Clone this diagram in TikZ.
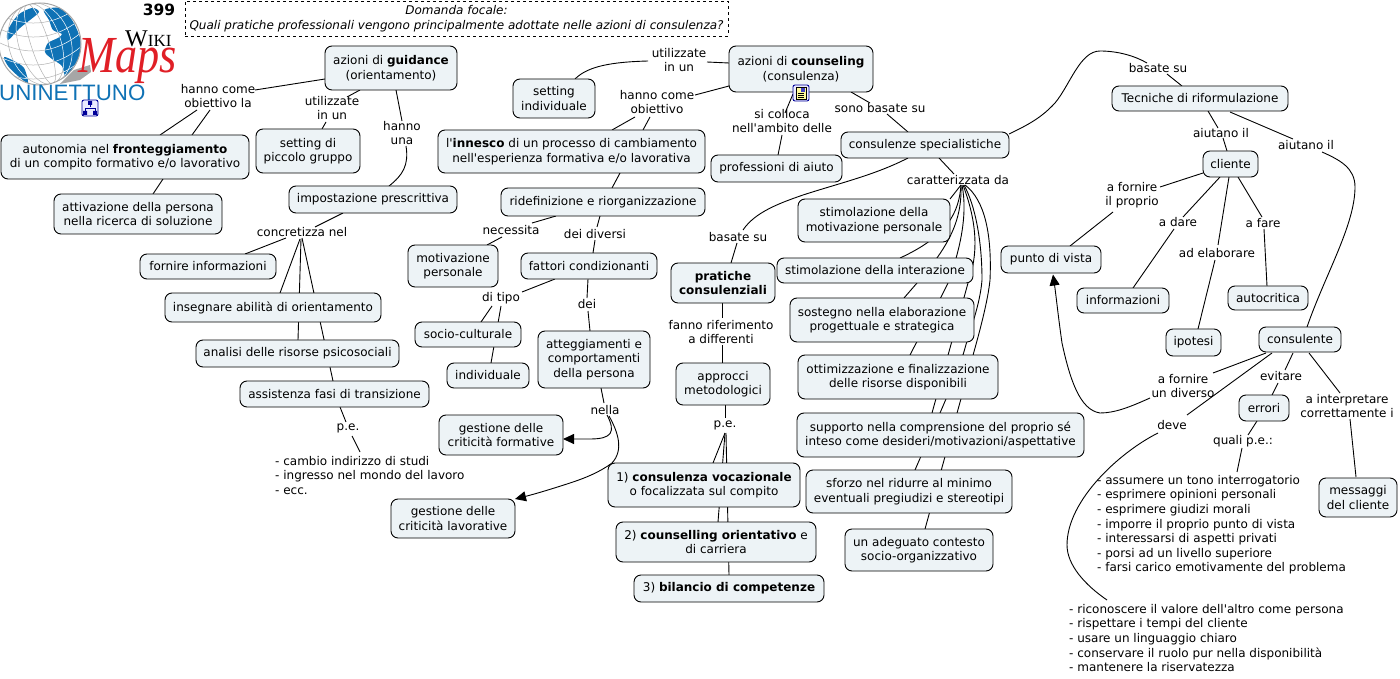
\documentclass[tikz,border=0pt]{standalone}
\usepackage{fontspec}
\setmainfont{DejaVu Sans}
\newfontfamily\logoserif{Liberation Serif}
\newfontfamily\logosans{Liberation Sans}
\usetikzlibrary{arrows.meta, backgrounds}
\definecolor{boxfill}{HTML}{EDF3F6}
\definecolor{globeblue}{HTML}{0F72B5}
\definecolor{mapsred}{HTML}{E01F26}
\newcommand{\mapfont}{\fontsize{12}{14.6}\selectfont}
\newcommand{\landpath}{plot[smooth cycle] coordinates {(8,30) (18,15) (32,8) (39,12) (30,20) (20,28) (8,40)}
  plot[smooth cycle] coordinates {(44,10) (60,8) (72,20) (80,38) (80,54) (75,69) (66,78) (62,66) (52,59) (45,52) (48,43) (58,38) (62,34) (53,30) (49,20)}
  plot[smooth cycle] coordinates {(4,57) (14,61) (24,68) (28,83) (18,76) (8,66)}}
\newcommand{\globegrid}{\foreach \rx in {9,21,31} {\draw [rotate around={18:(40,44)}] (40,44) ellipse [x radius=\rx, y radius=42];}
  \foreach \py in {14,28,42,56,70} {\draw (-2,\py) .. controls (30,\py+16) and (60,\py+10) .. (84,\py-12);}}
\tikzstyle{concept} = [rectangle, rounded corners=7pt, draw=black, fill=boxfill, line width=0.9pt, inner sep=0pt, align=center]
\tikzstyle{phrase} = [inner sep=0pt, align=center]
\tikzstyle{notes} = [inner sep=0pt, align=left, anchor=north west]
\tikzstyle{link} = [draw=black, line width=0.9pt]
\tikzstyle{arrow} = [link, -{Triangle[length=11pt,width=10pt]}]
\tikzstyle{iconbox} = [rectangle, rounded corners=2pt, draw=blue!60!black, fill=blue!8, line width=0.9pt, minimum size=16pt, inner sep=0pt]
\begin{document}
\begin{tikzpicture}[x=1pt, y=-1pt, every node/.style={font=\mapfont}]
\useasboundingbox (0,0) rectangle (1400,679);

% logo
\fill [gray!70] (60,84) -- (74,70) -- (90,65) -- (91,72) -- (80,80) -- cycle;
\fill [white] (40,44) circle (41);
\begin{scope}
  \clip (40,44) circle (41);
  \begin{scope}[gray!60, line width=0.5pt]
    \globegrid
  \end{scope}
  \fill [globeblue] \landpath;
  \begin{scope}
    \clip \landpath;
    \begin{scope}[white, line width=0.5pt]
      \globegrid
    \end{scope}
  \end{scope}
\end{scope}
\draw [gray!70, line width=1pt] (40,44) circle (41);
\node (logowiki) [phrase, anchor=west] at (125,39) {\logoserif\fontsize{24}{24}\selectfont W\fontsize{17}{17}\selectfont IKI};
\node (logomaps) [phrase, text=mapsred, xscale=0.85, transform shape] at (128,61) {\logoserif\itshape\fontsize{52}{52}\selectfont Maps};
\node (logouni) [phrase, text=globeblue, anchor=west] at (-1,93) {\logosans\fontsize{22.3}{24}\selectfont UNINETTUNO};
\node (number) [phrase] at (159,10) {\fontsize{15.5}{16}\selectfont\bfseries 399};
\node (iconmap) [iconbox] at (90,108) {};
\draw [blue!60!black, line width=0.7pt] (90,103) -- (90,107) (85,113) -- (85,108) -- (95,108) -- (95,113);
\fill [blue!60!black] (88,101) rectangle (92,105) (83,111) rectangle (87,115) (93,111) rectangle (97,115);

% question
\node (question) [rectangle, draw=black, dashed, line width=0.8pt, minimum width=543pt, minimum height=35pt, inner sep=0pt, align=center] at (456.5,18.5) {\itshape Domanda focale:\\\itshape Quali pratiche professionali vengono principalmente adottate nelle azioni di consulenza?};

% left branch
\node (guidance) [concept, minimum width=132pt, minimum height=44pt] at (391,68) {azioni di \textbf{guidance}\\(orientamento)};
\node (autonomia) [concept, minimum width=248pt, minimum height=44pt] at (125,157) {autonomia nel \textbf{fronteggiamento}\\di un compito formativo e/o lavorativo};
\node (attivazione) [concept, minimum width=168pt, minimum height=40pt] at (138,214) {attivazione della persona\\nella ricerca di soluzione};
\node (piccolo) [concept, minimum width=104pt, minimum height=44pt] at (308,151) {setting di\\piccolo gruppo};
\node (impostazione) [concept, minimum width=168pt, minimum height=27pt] at (373,199.5) {impostazione prescrittiva};
\node (fornire) [concept, minimum width=136pt, minimum height=25pt] at (208,266.5) {fornire informazioni};
\node (insegnare) [concept, minimum width=216pt, minimum height=29pt] at (273,307.5) {insegnare abilità di orientamento};
\node (analisi) [concept, minimum width=203pt, minimum height=27pt] at (297.5,353.5) {analisi delle risorse psicosociali};
\node (assistenza) [concept, minimum width=189pt, minimum height=26pt] at (334.5,394) {assistenza fasi di transizione};

% middle branch
\node (counseling) [concept, minimum width=144pt, minimum height=46pt] at (801,69) {azioni di \textbf{counseling}\\(consulenza)};
\node (singolo) [concept, minimum width=82pt, minimum height=39pt] at (554,98.5) {setting\\individuale};
\node (innesco) [concept, minimum width=267pt, minimum height=43pt] at (571.5,151.5) {l\textquotesingle\textbf{innesco} di un processo di cambiamento\\nell\textquotesingle esperienza formativa e/o lavorativa};
\node (ridefinizione) [concept, minimum width=204pt, minimum height=28pt] at (603,202) {ridefinizione e riorganizzazione};
\node (motivazione) [concept, minimum width=90pt, minimum height=42pt] at (453,266) {motivazione\\personale};
\node (fattori) [concept, minimum width=136pt, minimum height=26pt] at (589,266) {fattori condizionanti};
\node (socio) [concept, minimum width=106pt, minimum height=25pt] at (468,334.5) {socio-culturale};
\node (individuale) [concept, minimum width=82pt, minimum height=25pt] at (488,375.5) {individuale};
\node (atteggiamenti) [concept, minimum width=112pt, minimum height=57pt] at (594,359.5) {atteggiamenti e\\comportamenti\\della persona};
\node (formative) [concept, minimum width=124pt, minimum height=40pt] at (501,435) {gestione delle\\criticità formative};
\node (lavorative) [concept, minimum width=124pt, minimum height=39pt] at (453,518.5) {gestione delle\\criticità lavorative};
\node (professioni) [concept, minimum width=131pt, minimum height=27pt] at (776.5,168.5) {professioni di aiuto};
\node (pratiche) [concept, minimum width=104pt, minimum height=40pt] at (723,283) {\textbf{pratiche}\\\textbf{consulenziali}};
\node (approcci) [concept, minimum width=94pt, minimum height=42pt] at (723,384) {approcci\\metodologici};
\node (vocazionale) [concept, minimum width=192pt, minimum height=44pt] at (704,485) {1) \textbf{consulenza vocazionale}\\o focalizzata sul compito};
\node (carriera) [concept, minimum width=200pt, minimum height=40pt] at (716,542) {2) \textbf{counselling orientativo} e\\di carriera};
\node (bilancio) [concept, minimum width=190pt, minimum height=27pt] at (729,588.5) {3) \textbf{bilancio di competenze}};

% consulenze
\node (consulenze) [concept, minimum width=168pt, minimum height=26pt] at (925,145) {consulenze specialistiche};
\node (stimmot) [concept, minimum width=152pt, minimum height=43pt] at (874,220.5) {stimolazione della\\motivazione personale};
\node (stimint) [concept, minimum width=196pt, minimum height=25pt] at (875,270.5) {stimolazione della interazione};
\node (sostegno) [concept, minimum width=184pt, minimum height=44pt] at (882,320) {sostegno nella elaborazione\\progettuale e strategica};
\node (ottim) [concept, minimum width=200pt, minimum height=44pt] at (898,377) {ottimizzazione e finalizzazione\\delle risorse disponibili};
\node (supporto) [concept, minimum width=287pt, minimum height=44pt] at (940.5,435) {supporto nella comprensione del proprio sé\\inteso come desideri/motivazioni/aspettative};
\node (sforzo) [concept, minimum width=206pt, minimum height=43pt] at (909,491.5) {sforzo nel ridurre al minimo\\eventuali pregiudizi e stereotipi};
\node (adeguato) [concept, minimum width=148pt, minimum height=42pt] at (919,550) {un adeguato contesto\\socio-organizzativo};

% right branch
\node (tecniche) [concept, minimum width=176pt, minimum height=25pt] at (1200,98.5) {Tecniche di riformulazione};
\node (cliente) [concept, minimum width=55pt, minimum height=26pt] at (1230.5,164) {cliente};
\node (punto) [concept, minimum width=100pt, minimum height=27pt] at (1051,259.5) {punto di vista};
\node (informazioni) [concept, minimum width=92pt, minimum height=25pt] at (1123,300.5) {informazioni};
\node (autocritica) [concept, minimum width=80pt, minimum height=24pt] at (1268,298) {autocritica};
\node (ipotesi) [concept, minimum width=55pt, minimum height=27pt] at (1193.5,342.5) {ipotesi};
\node (consulente) [concept, minimum width=82pt, minimum height=25pt] at (1300,339.5) {consulente};
\node (errori) [concept, minimum width=50pt, minimum height=26pt] at (1264,408) {errori};
\node (messaggi) [concept, minimum width=78pt, minimum height=39pt] at (1358,497.5) {messaggi\\del cliente};

% linking phrases
\node (lobj1) [phrase] at (218,96) {hanno come\\obiettivo la};
\node (lutil1) [phrase] at (332,108) {utilizzate\\in un};
\node (lhanno) [phrase] at (402,133) {hanno\\una};
\node (lconcr) [phrase] at (302,232) {concretizza nel};
\node (lpe1) [phrase] at (348,428) {p.e.};
\node (lutil2) [phrase] at (679,60) {utilizzate\\in un};
\node (lobj2) [phrase] at (657,102) {hanno come\\obiettivo};
\node (lcolloca) [phrase] at (782,121) {si colloca\\nell\textquotesingle ambito delle};
\node (lsono) [phrase] at (880,108) {sono basate su};
\node (lbasate1) [phrase] at (738,237) {basate su};
\node (lbasate2) [phrase] at (1158,68) {basate su};
\node (lcaract) [phrase] at (958,180) {caratterizzata da};
\node (laiut1) [phrase] at (1221,133) {aiutano il};
\node (laiut2) [phrase] at (1306,145) {aiutano il};
\node (lfornire1) [phrase] at (1132,195) {a fornire\\il proprio};
\node (ldare) [phrase] at (1178,222) {a dare};
\node (lelab) [phrase] at (1217,253) {ad elaborare};
\node (lfare) [phrase] at (1263,223) {a fare};
\node (lfornire2) [phrase] at (1183,386) {a fornire\\un diverso};
\node (ldeve) [phrase] at (1172,425) {deve};
\node (levit) [phrase] at (1281,376) {evitare};
\node (linterp) [phrase] at (1347,406) {a interpretare\\correttamente i};
\node (lquali) [phrase] at (1243,441) {quali p.e.:};
\node (lnec) [phrase] at (511,230) {necessita};
\node (ldiversi) [phrase] at (595,234) {dei diversi};
\node (ltipo) [phrase] at (501,298) {di tipo};
\node (ldei) [phrase] at (587,304) {dei};
\node (lnella) [phrase] at (605,410) {nella};
\node (lfanno) [phrase] at (721,332) {fanno riferimento\\a differenti};
\node (lpe2) [phrase] at (725,425) {p.e.};

% free text
\node (lista1) [notes] at (275,456) {- cambio indirizzo di studi\\- ingresso nel mondo del lavoro\\- ecc.};
\node (lista2) [notes] at (1097,475) {- assumere un tono interrogatorio\\- esprimere opinioni personali\\- esprimere giudizi morali\\- imporre il proprio punto di vista\\- interessarsi di aspetti privati\\- porsi ad un livello superiore\\- farsi carico emotivamente del problema};
\node (lista3) [notes] at (1069,604) {- riconoscere il valore dell\textquotesingle altro come persona\\- rispettare i tempi del cliente\\- usare un linguaggio chiaro\\- conservare il ruolo pur nella disponibilità\\- mantenere la riservatezza};

\node (icondoc) [iconbox] at (801,93) {};
\fill [yellow!40] (796,87) rectangle (806,99);
\draw [black, line width=0.6pt] (796,87) rectangle (806,99) (798,93) -- (804,93) (798,95) -- (804,95) (798,97) -- (804,97);
\fill [blue!50!gray] (801,88) rectangle (805,92);

% connectors, behind the boxes
\begin{scope}[on background layer]
\draw [link] ([shift={(-66,11)}]guidance.center) -- ([shift={(37,-6)}]lobj1.center);
\draw [link] ([shift={(-21,14)}]lobj1.center) -- ([shift={(35,-22)}]autonomia.center);
\draw [link] ([shift={(-8,14)}]lobj1.center) -- ([shift={(67,-22)}]autonomia.center);
\draw [link] ([shift={(38,22)}]autonomia.center) -- ([shift={(15,-20)}]attivazione.center);
\draw [link] ([shift={(-31,22)}]guidance.center) -- ([shift={(15,-11)}]lutil1.center);
\draw [link] ([shift={(-6,14)}]lutil1.center) -- ([shift={(14,-22)}]piccolo.center);
\draw [link] ([shift={(5,22)}]guidance.center) -- ([shift={(0,-12)}]lhanno.center);
\draw [link] ([shift={(4,13)}]lhanno.center) .. controls (409,165) and (403,175) .. ([shift={(16,-13.5)}]impostazione.center);
\draw [link] ([shift={(-30,13.5)}]impostazione.center) -- ([shift={(13,-5)}]lconcr.center);
\draw [link] ([shift={(-16,6)}]lconcr.center) -- ([shift={(37,-12.5)}]fornire.center);
\draw [link] ([shift={(-2,7)}]lconcr.center) -- ([shift={(7,-14.5)}]insegnare.center);
\draw [link] ([shift={(-1,7)}]lconcr.center) -- ([shift={(0.5,-13.5)}]analisi.center);
\draw [link] ([shift={(0,6)}]lconcr.center) -- ([shift={(-1.5,-13)}]assistenza.center);
\draw [link] ([shift={(5.5,13)}]assistenza.center) -- ([shift={(-2,-6)}]lpe1.center);
\draw [link] ([shift={(4,8)}]lpe1.center) -- ([shift={(85,-4)}]lista1.north west);

\draw [link] ([shift={(-72,-6)}]counseling.center) -- ([shift={(28,2)}]lutil2.center);
\draw [link] ([shift={(-31,1)}]lutil2.center) .. controls (612,62) and (588,66) .. ([shift={(21,-19.5)}]singolo.center);
\draw [link] ([shift={(-72,17)}]counseling.center) -- ([shift={(38,-7)}]lobj2.center);
\draw [link] ([shift={(-22,15)}]lobj2.center) -- ([shift={(40.5,-21.5)}]innesco.center);
\draw [link] ([shift={(-7,15)}]lobj2.center) -- ([shift={(71.5,-21.5)}]innesco.center);
\draw [link] ([shift={(48.5,21.5)}]innesco.center) -- ([shift={(9,-14)}]ridefinizione.center);
\draw [link] ([shift={(-8,1)}]icondoc.center) -- ([shift={(3,-8)}]lcolloca.center);
\draw [link] ([shift={(0,14)}]lcolloca.center) -- ([shift={(1.5,-13.5)}]professioni.center);
\draw [link] ([shift={(50,23)}]counseling.center) -- ([shift={(-10,-5)}]lsono.center);
\draw [link] ([shift={(7,6)}]lsono.center) -- ([shift={(-17,-13)}]consulenze.center);
\draw [link] ([shift={(-17,13)}]consulenze.center) .. controls (875,175) and (840,183) .. (803,195) .. controls (780,203) and (755,212) .. ([shift={(5,-7)}]lbasate1.center);
\draw [link] ([shift={(-1,6)}]lbasate1.center) -- ([shift={(8,-20)}]pratiche.center);
\draw [link] ([shift={(-1,20)}]pratiche.center) -- ([shift={(1,-14)}]lfanno.center);
\draw [link] ([shift={(1,13)}]lfanno.center) -- ([shift={(-1,-21)}]approcci.center);
\draw [link] ([shift={(2,21)}]approcci.center) -- ([shift={(0,-7)}]lpe2.center);
\draw [link] ([shift={(0,8)}]lpe2.center) -- ([shift={(9,-22)}]vocazionale.center);
\draw [link] ([shift={(0,8)}]lpe2.center) -- ([shift={(2,-20)}]carriera.center);
\draw [link] ([shift={(1,8)}]lpe2.center) -- ([shift={(0,-13.5)}]bilancio.center);

\draw [link] ([shift={(-47,14)}]ridefinizione.center) -- ([shift={(21,-7)}]lnec.center);
\draw [link] ([shift={(-9,7)}]lnec.center) -- ([shift={(34,-21)}]motivazione.center);
\draw [link] ([shift={(-3,14)}]ridefinizione.center) -- ([shift={(2,-7)}]ldiversi.center);
\draw [link] ([shift={(0,6)}]ldiversi.center) -- ([shift={(4,-13)}]fattori.center);
\draw [link] ([shift={(-34,13)}]fattori.center) -- ([shift={(21,-6)}]ltipo.center);
\draw [link] ([shift={(-9,8)}]ltipo.center) -- ([shift={(13,-12.5)}]socio.center);
\draw [link] ([shift={(0,8)}]ltipo.center) -- ([shift={(3,-12.5)}]individuale.center);
\draw [link] ([shift={(-1,13)}]fattori.center) -- ([shift={(0,-6)}]ldei.center);
\draw [link] ([shift={(1,7)}]ldei.center) -- ([shift={(-4,-28.5)}]atteggiamenti.center);
\draw [link] ([shift={(7,28.5)}]atteggiamenti.center) -- ([shift={(-1,-7)}]lnella.center);
\draw [arrow] ([shift={(2,5)}]lnella.center) .. controls (616,432) and (612,439) .. (590,439) -- ([shift={(62,4)}]formative.center);
\draw [arrow] ([shift={(4,6)}]lnella.center) .. controls (618,432) and (624,450) .. (612,463) .. controls (600,472) and (585,478) .. (573,482) .. controls (555,488) and (535,494) .. ([shift={(62,-19.5)}]lavorative.center);

\draw [link] ([shift={(14,13)}]consulenze.center) -- ([shift={(-4,-6)}]lcaract.center);
\draw [link] ([shift={(3,5)}]lcaract.center) -- ([shift={(76,-21.5)}]stimmot.center);
\draw [link] ([shift={(3,5)}]lcaract.center) .. controls (959,212) and (948,236) .. ([shift={(25,-12.5)}]stimint.center);
\draw [link] ([shift={(3,5)}]lcaract.center) .. controls (962,220) and (950,245) .. (917,283) -- ([shift={(22,-22)}]sostegno.center);
\draw [link] ([shift={(4,5)}]lcaract.center) .. controls (968,215) and (960,250) .. (948,283) .. controls (935,310) and (920,335) .. ([shift={(12,-22)}]ottim.center);
\draw [link] ([shift={(5,5)}]lcaract.center) .. controls (978,225) and (978,255) .. (968,283) .. controls (962,305) and (955,330) .. (950,348) -- ([shift={(-8.5,-22)}]supporto.center);
\draw [link] ([shift={(6,5)}]lcaract.center) .. controls (975,205) and (982,240) .. (982,280) .. controls (980,305) and (970,330) .. (965,348) .. controls (958,375) and (930,435) .. ([shift={(6,-21.5)}]sforzo.center);
\draw [link] ([shift={(7,5)}]lcaract.center) .. controls (985,200) and (992,235) .. (990,280) .. controls (988,300) and (980,330) .. (975,348) -- ([shift={(6,-21)}]adeguato.center);

\draw [link] ([shift={(84,-11)}]consulenze.center) .. controls (1030,124) and (1042,117) .. (1055,103) .. controls (1070,85) and (1080,51) .. (1100,51) .. controls (1118,51) and (1135,56) .. ([shift={(-11,-5)}]lbasate2.center);
\draw [link] ([shift={(9,6)}]lbasate2.center) -- ([shift={(-18,-12.5)}]tecniche.center);
\draw [link] ([shift={(8,12.5)}]tecniche.center) -- ([shift={(-3,-5)}]laiut1.center);
\draw [link] ([shift={(2,5)}]laiut1.center) -- ([shift={(-3.5,-13)}]cliente.center);
\draw [link] ([shift={(30,13.5)}]tecniche.center) -- ([shift={(-13,-6)}]laiut2.center);
\draw [link] ([shift={(16,7)}]laiut2.center) .. controls (1340,160) and (1355,168) .. (1355,187) .. controls (1355,225) and (1325,275) .. ([shift={(7,-12.5)}]consulente.center);
\draw [link] ([shift={(-27.5,9)}]cliente.center) -- ([shift={(28,-8)}]lfornire1.center);
\draw [link] ([shift={(-19,17)}]lfornire1.center) -- ([shift={(19,-13.5)}]punto.center);
\draw [link] ([shift={(-10.5,13)}]cliente.center) -- ([shift={(5,-5)}]ldare.center);
\draw [link] ([shift={(-4,7)}]ldare.center) -- ([shift={(10,-12.5)}]informazioni.center);
\draw [link] ([shift={(-1.5,13)}]cliente.center) -- ([shift={(1,-8)}]lelab.center);
\draw [link] ([shift={(-2,7)}]lelab.center) -- ([shift={(4.5,-13.5)}]ipotesi.center);
\draw [link] ([shift={(7.5,13)}]cliente.center) -- ([shift={(-1,-6)}]lfare.center);
\draw [link] ([shift={(1,6)}]lfare.center) -- ([shift={(-1,-12)}]autocritica.center);
\draw [link] ([shift={(-34,13.5)}]consulente.center) -- ([shift={(30,-13)}]lfornire2.center);
\draw [arrow] ([shift={(-33,12)}]lfornire2.center) .. controls (1130,407) and (1115,413) .. (1100,413) .. controls (1080,410) and (1070,380) .. (1062,343) .. controls (1058,315) and (1056,295) .. ([shift={(2,15)}]punto.center);
\draw [link] ([shift={(-28,13.5)}]consulente.center) -- ([shift={(15,-10)}]ldeve.center);
\draw [link] ([shift={(-14,8)}]ldeve.center) .. controls (1120,452) and (1067,500) .. (1067,545) .. controls (1067,565) and (1085,585) .. ([shift={(38,-4)}]lista3.north west);
\draw [link] ([shift={(-7,13.5)}]consulente.center) -- ([shift={(4,-6)}]levit.center);
\draw [link] ([shift={(-3,7)}]levit.center) -- ([shift={(8,-13)}]errori.center);
\draw [link] ([shift={(9,13.5)}]consulente.center) -- ([shift={(-7,-13)}]linterp.center);
\draw [link] ([shift={(3,13)}]linterp.center) -- ([shift={(-2,-20.5)}]messaggi.center);
\draw [link] ([shift={(-7,13)}]errori.center) -- ([shift={(5,-6)}]lquali.center);
\draw [link] ([shift={(-1,7)}]lquali.center) -- ([shift={(140,-3)}]lista2.north west);
\end{scope}
\end{tikzpicture}
\end{document}
